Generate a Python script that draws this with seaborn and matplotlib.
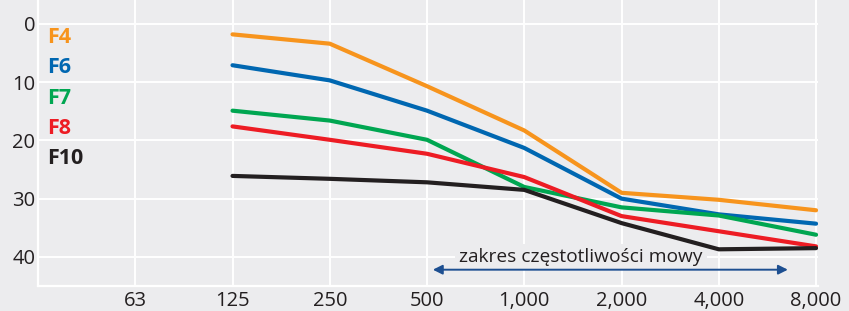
import matplotlib
matplotlib.use("Agg")
import matplotlib.pyplot as plt
import seaborn as sns
import pandas as pd
import numpy as np

freq_labels = ["63", "125", "250", "500", "1,000", "2,000", "4,000", "8,000"]
series_names = ["F4", "F6", "F7", "F8", "F10"]
f4 = [None, 1.8, 3.4, 10.7, 18.3, 29.0, 30.2, 32.0]
f6 = [None, 7.1, 9.7, 14.9, 21.3, 30.0, 32.7, 34.3]
f7 = [None, 14.9, 16.6, 19.9, 28.0, 31.5, 32.9, 36.2]
f8 = [None, 17.6, 19.9, 22.3, 26.3, 33.0, 35.6, 38.2]
f10 = [None, 26.1, 26.6, 27.2, 28.5, 34.2, 38.7, 38.5]
colors = ["#f7941d", "#0067b1", "#00a651", "#ed1c24", "#231f20"]
annot_text = "zakres częstotliwości mowy"
y_ticks = [0, 10, 20, 30, 40]

bg = "#ececee"
txt = "#231f20"

rows = []
for name, vals in zip(series_names, [f4, f6, f7, f8, f10]):
    for i, v in enumerate(vals):
        if v is not None:
            rows.append({"pos": i, "value": v, "series": name})
df = pd.DataFrame(rows)

sns.set_theme(style="darkgrid")
plt.rcParams["font.family"] = ["Open Sans", "DejaVu Sans"]

fig = plt.figure(figsize=(8.49, 3.11), dpi=100, facecolor=bg)
ax = fig.add_axes([38 / 849, 25 / 311, 780 / 849, 286 / 311])
ax.set_facecolor(bg)

sns.lineplot(data=df, x="pos", y="value", hue="series", palette=dict(zip(series_names, colors)),
             linewidth=3.0, ax=ax, legend=False, zorder=3)

ax.set_xlim(-1, 7.02)
ax.set_ylim(45, -4.1)
ax.set_xticks(range(len(freq_labels)))
ax.set_xticklabels(freq_labels)
ax.set_yticks(y_ticks)
ax.set_xlabel("")
ax.set_ylabel("")
ax.grid(True, color="white", linewidth=1.4)
ax.tick_params(axis="x", length=0, pad=3.5, labelsize=14.5, labelcolor=txt)
ax.tick_params(axis="y", length=0, pad=2, labelsize=14.5, labelcolor=txt)
for s in ["top", "right"]:
    ax.spines[s].set_visible(False)
for s in ["left", "bottom"]:
    ax.spines[s].set_visible(True)
    ax.spines[s].set_color("white")
    ax.spines[s].set_linewidth(1.6)

# series labels
for k, (name, c) in enumerate(zip(series_names, colors)):
    ax.text(-0.905, 2.4 + k * 5.17, name, color=c, fontsize=15.5, fontweight="bold",
            ha="left", va="center", zorder=4)

# speech range annotation
ax.annotate("", xy=(6.71, 42.2), xytext=(3.06, 42.2),
            arrowprops=dict(arrowstyle="<|-|>", color="#1d4f91", lw=1.4,
                            mutation_scale=14, shrinkA=0, shrinkB=0), zorder=4)
ax.text(4.58, 40.0, annot_text, ha="center", va="center", fontsize=13.8, color=txt,
        bbox=dict(facecolor=bg, edgecolor="none", pad=3), zorder=2.5)

fig.savefig("out.png", dpi=100, facecolor=bg)
